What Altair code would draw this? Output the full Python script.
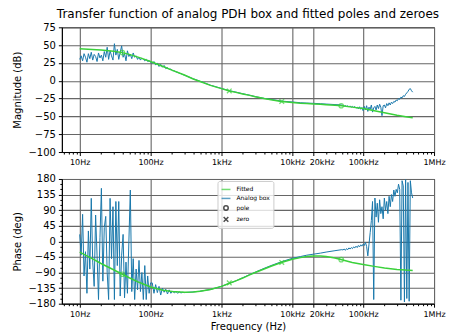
import altair as alt
import numpy as np
import pandas as pd

TITLE = "Transfer function of analog PDH box and fitted poles and zeroes"
BLUE = "#1a78ac"
GREEN = "#3ad13a"
FONT = "DejaVu Sans"

# ---------------- fitted curve ----------------
fit_freq = [10, 15, 20, 30, 40, 50, 70, 100, 150, 200, 300, 400, 500, 700, 1000,
            1300, 1600, 2000, 2500, 3000, 4000, 5000, 7000, 10000, 13000, 16000,
            20000, 25000, 30000, 40000, 50000, 70000, 100000, 150000, 200000,
            300000, 400000, 500000]
fit_mag = [45, 44, 43, 41.5, 39.5, 37, 32.5, 27, 20, 15, 8, 2.5, -1, -6.5, -11,
           -14.3, -16.3, -18.5, -20.5, -22.5, -25, -26.5, -29, -30.5, -31.5, -32,
           -32.5, -33, -33.5, -34.3, -35, -37, -39, -42.5, -45, -48.5, -50.5, -52]
fit_phase = [-31, -50, -64, -82, -95, -105, -119, -132, -141, -145, -147, -146, -144,
             -139, -130, -121, -114, -106, -97, -90, -80, -72, -61, -52, -47, -44,
             -42, -42, -44, -48, -53, -61, -67, -73, -77, -81, -83, -84]

# ---------------- measured analog box ----------------
meas_freq = np.concatenate([
    np.geomspace(10, 100, 50),
    np.geomspace(100, 300, 21)[1:],
    [400, 500, 700, 1000, 1300, 1600, 2000, 2500, 3000, 4000, 5000, 7000, 10000,
     13000, 16000, 20000, 25000, 30000, 40000, 50000],
    np.geomspace(50000, 500000, 61)[1:],
])
meas_mag = [
    # 10 Hz - 100 Hz
    30, 35, 28, 38, 33, 26, 38, 31, 40, 29, 37, 34, 27, 39, 32, 36, 28, 41, 33, 47,
    30, 42, 35, 29, 52, 36, 44, 30, 40, 49, 33, 38, 28, 42, 34, 37, 31, 39, 33, 35,
    30, 33, 29, 32, 30, 28, 30, 27, 28, 26,
    # 100 Hz - 300 Hz
    24.5, 27, 22, 25, 20, 23, 19, 21.5, 17, 18.5, 16, 16.3, 14.2, 14, 12.5, 11.9,
    10.6, 10, 8.7, 7.9,
    # 400 Hz - 50 kHz
    2.8, -0.7, -6.2, -10.7, -14, -15.9, -18.2, -20.2, -22.2, -24.7, -26.2, -28.5,
    -29.8, -30.8, -31.3, -31.7, -32.2, -32.7, -33.4, -34,
    # 50 kHz - 500 kHz
    -34.5, -35.5, -34.8, -36, -35.2, -36.5, -35.5, -37, -36, -37.5, -36.2, -38.5,
    -37, -39.5, -36.5, -40, -37.5, -42, -36, -41, -35, -43, -37, -40, -34, -44,
    -38, -36, -41, -34, -39, -33, -37, -49, -35, -34, -38, -32, -35, -31, -34,
    -30, -32, -29, -30, -27, -28, -25, -26, -23, -24, -21, -22, -19, -17, -15,
    -12, -11, -14, -16,
]
meas_phase = [
    # 10 Hz - 100 Hz
    20, -40, 78, -100, -30, -150, 30, -80, 124, -60, -130, 76, -40, -168, 10, 153,
    -115, 40, 72, -90, -168, 124, -50, 100, -168, 115, -70, 115, -158, -40, 20,
    -163, -60, -150, 0, 148, -145, -50, -168, -80, -140, -55, -145, -90, -168,
    -70, -168, -100, -150, -120,
    # 100 Hz - 300 Hz
    -120, -150, -125, -148, -130, -155, -135, -147, -138, -152, -140, -150, -143,
    -149, -145, -150, -146, -149, -147, -148,
    # 400 Hz - 50 kHz
    -146, -144, -139, -130, -121, -114, -105, -96, -89, -78, -70, -59, -49, -44,
    -40, -37, -34, -31, -27, -24,
    # 50 kHz - 500 kHz
    -25, -22, -26, -21, -24, -19, -22, -18, -21, -16, -19, -14, -18, -12, -16,
    -10, -14, -8, -12, -3, -15, -42, -8, 25, 60, 115, -168, 125, 70, 110, 55,
    120, 80, 100, 65, 125, 90, 115, 80, 130, 100, 135, 115, 148, 130, 150, 140,
    165, 150, -170, 175, 160, -175, 178, -165, 170, -173, 175, 140, 125,
]

# ---------------- poles and zeroes ----------------
pole_freq = [40, 49000]
pole_mag = [39.5, -35]
pole_phase = [-95, -53]
zero_freq = [1290, 7100]
zero_mag = [-14.3, -29]
zero_phase = [-120, -61]

# ---------------- axis ticks ----------------
major_ticks = [10, 100, 1000, 10000, 20000, 100000, 1000000]
major_labels = ["10Hz", "100Hz", "1kHz", "10kHz", "20kHz", "100kHz", "1MHz"]
minor_ticks = [m * d for d in [1, 10, 100, 1000, 10000, 100000] for m in range(2, 10)
               if m * d >= 6 and m * d not in major_ticks]
mag_ticks = [75, 50, 25, 0, -25, -50, -75, -100]
phase_ticks = [180, 135, 90, 45, 0, -45, -90, -135, -180]
phase_minor = [v for v in range(-180, 181, 15) if v not in phase_ticks]

series_names = ["Fitted", "Analog box", "pole", "zero"]
series_colors = [GREEN, BLUE, "black", "black"]
XPATH = "M-1,-1L1,1M-1,1L1,-1"
series_shapes = ["stroke", "stroke", "circle", XPATH]
series_sizes = [80, 80, 20, 22]

fit_df = pd.DataFrame({"f": fit_freq, "mag": fit_mag, "phase": fit_phase, "series": "Fitted"})
meas_df = pd.DataFrame({"f": meas_freq, "mag": meas_mag, "phase": meas_phase, "series": "Analog box"})
pole_df = pd.DataFrame({"f": pole_freq, "mag": pole_mag, "phase": pole_phase, "series": "pole"})
zero_df = pd.DataFrame({"f": zero_freq, "mag": zero_mag, "phase": zero_phase, "series": "zero"})

W, H = 373, 125
xscale = alt.Scale(type="log", domain=[5.6, 1000000], nice=False)

label_map = "{" + ",".join(f"'{v}':'{l}'" for v, l in zip(major_ticks, major_labels)) + "}"
label_expr = f"{label_map}[''+datum.value]"


def x_major(title=None):
    return alt.X("f:Q", scale=xscale, title=title,
                 axis=alt.Axis(values=major_ticks, labelExpr=label_expr, grid=True,
                               gridColor="#666666", gridWidth=1.1, tickSize=3.5,
                               labelPadding=3, labelFontSize=8, labelFlush=False,
                               labelOverlap=False, titleFontSize=10, titlePadding=3,
                               labelOffset={"condition": {"test": "datum.value == 20000", "value": 8},
                                            "value": 0},
                               titleFontWeight="normal", orient="bottom"))


def x_minor():
    return alt.X("f:Q", scale=xscale, title=None,
                 axis=alt.Axis(values=minor_ticks, labels=False, grid=False, domain=False,
                               tickSize=2, orient="bottom"))


def x_none():
    return alt.X("f:Q", scale=xscale, axis=None)


def y_major(field, dom, ticks, title):
    return alt.Y(f"{field}:Q", scale=alt.Scale(domain=dom, nice=False, zero=False), title=title,
                 axis=alt.Axis(values=ticks, grid=True, gridColor="#666666", gridWidth=1.1,
                               tickSize=3.5, labelPadding=3, labelFontSize=10,
                               titleFontSize=10, titleFontWeight="normal", titlePadding=5,
                               orient="left", labelFlush=False))


def y_minor(field, dom, ticks):
    return alt.Y(f"{field}:Q", scale=alt.Scale(domain=dom, nice=False, zero=False), title=None,
                 axis=alt.Axis(values=ticks, labels=False, grid=False, domain=False,
                               tickSize=2, orient="left"))


def y_none(field, dom):
    return alt.Y(f"{field}:Q", scale=alt.Scale(domain=dom, nice=False, zero=False), axis=None)


# ---------------- magnitude panel ----------------
mdom = [-100, 75]
top = alt.layer(
    alt.Chart(meas_df).mark_line(color=BLUE, strokeWidth=1).encode(
        x=x_major(), y=y_major("mag", mdom, mag_ticks, "Magnitude (dB)")),
    alt.Chart(fit_df).mark_line(color=GREEN, strokeWidth=1.5).encode(
        x=x_minor(), y=y_none("mag", mdom)),
    alt.Chart(pole_df).mark_point(color=GREEN, filled=False, size=20, strokeWidth=1.2).encode(
        x=x_none(), y=y_none("mag", mdom)),
    alt.Chart(zero_df).mark_point(color=GREEN, filled=False, shape=XPATH, size=22, strokeWidth=1.3).encode(
        x=x_none(), y=y_none("mag", mdom)),
).resolve_axis(x="independent", y="independent").properties(
    width=W, height=H,
    title=alt.Title(TITLE, fontSize=12, font=FONT, fontWeight="normal", anchor="middle",
                    offset=1, color="black"))

# ---------------- phase panel ----------------
pdom = [-180, 180]


def leg():
    return alt.Legend(
        title=None, orient="none", legendX=156, legendY=2,
        symbolStrokeWidth=1.5, symbolFillColor="transparent", labelFontSize=6,
        labelFont=FONT, rowPadding=0, padding=3, fillColor="rgba(255,255,255,0.8)",
        strokeColor="#cccccc", cornerRadius=2, labelOffset=5)


color_enc = alt.Color("series:N", scale=alt.Scale(domain=series_names, range=series_colors),
                      legend=leg())
shape_enc = alt.Shape("series:N", scale=alt.Scale(domain=series_names, range=series_shapes),
                      legend=leg())
size_enc = alt.Size("series:N", scale=alt.Scale(type="ordinal", domain=series_names,
                                                range=series_sizes),
                    legend=leg())

bottom = alt.layer(
    alt.Chart(meas_df).mark_line(strokeWidth=1).encode(
        x=x_major("Frequency (Hz)"), y=y_major("phase", pdom, phase_ticks, "Phase (deg)"),
        color=color_enc),
    alt.Chart(fit_df).mark_line(color=GREEN, strokeWidth=1.5).encode(
        x=x_minor(), y=y_minor("phase", pdom, phase_minor)),
    alt.Chart(pole_df).mark_point(color=GREEN, filled=False, strokeWidth=1.2).encode(
        x=x_none(), y=y_none("phase", pdom), shape=shape_enc, size=size_enc),
    alt.Chart(zero_df).mark_point(color=GREEN, filled=False, strokeWidth=1.3).encode(
        x=x_none(), y=y_none("phase", pdom), shape=shape_enc, size=size_enc),
).resolve_axis(x="independent", y="independent").properties(width=W, height=H)

chart = alt.vconcat(top, bottom, spacing=6).resolve_scale(
    color="independent", shape="independent", size="independent").resolve_legend(
    color="independent", shape="independent", size="independent").properties(
    padding={"left": 12, "top": 7, "right": 4, "bottom": 0}
).configure(font=FONT).configure_axis(
    labelFont=FONT, titleFont=FONT, labelColor="black", titleColor="black",
    tickColor="black", domainColor="black"
).configure_view(stroke="black", strokeWidth=1)

chart.save("out.html", embed_options={"renderer": "svg", "actions": False})
